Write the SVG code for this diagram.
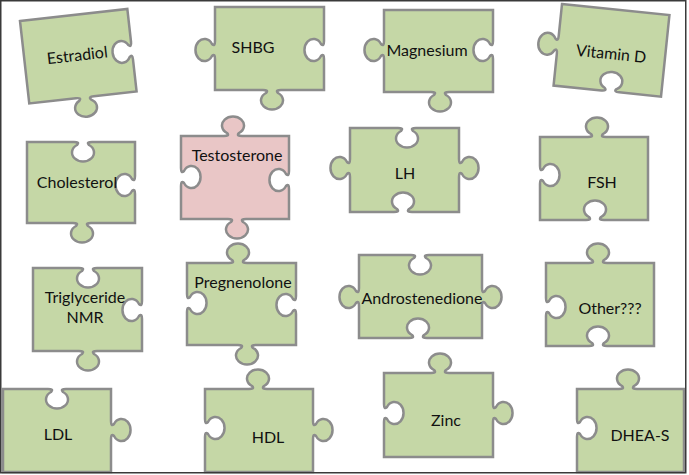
<svg xmlns="http://www.w3.org/2000/svg" width="689" height="475" viewBox="0 0 689 475">
<style>
.p{fill:#c5d7a6;stroke:#8c8c8c;stroke-width:2.5;stroke-linejoin:miter}
.pink{fill:#e9c6c6}
.t{font-family:Lato,"Open Sans","Liberation Sans",sans-serif;font-size:16px;fill:#111;text-anchor:middle}
</style>
<rect x="0" y="0" width="689" height="475" fill="#fff"/>
<g id="estradiol" transform="translate(20,21) rotate(-6.4)">
<path class="p" d="M0,0 H108 V33 c 0,4 -1,5 -3,3 a 9 11 0 1 0 0,12 c 2,-2 3,-1 3,3 V83 H65 c -4,0 -5,1 -3,3 a 11 9 0 1 1 -12,0 c 2,-2 1,-3 -3,-3 H0 Z"/>
<text class="t" x="53" y="46">Estradiol</text>
</g>
<g id="shbg">
<path class="p" d="M215,7 H324 V41 c 0,4 -1,5 -3,3 a 9 11 0 1 0 0,12 c 2,-2 3,-1 3,3 V90 H281 c -4,0 -5,1 -3,3 a 11 9 0 1 1 -12,0 c 2,-2 1,-3 -3,-3 H215 V59 c 0,-4 -1,-5 -3,-3 a 9 11 0 1 1 0,-12 c 2,2 3,1 3,-3 Z"/>
<text class="t" x="253" y="53">SHBG</text>
</g>
<g id="magnesium">
<path class="p" d="M384,10 H493 V41 c 0,4 -1,5 -3,3 a 9 11 0 1 0 0,12 c 2,-2 3,-1 3,3 V92 H449 c -4,0 -5,1 -3,3 a 11 9 0 1 1 -12,0 c 2,-2 1,-3 -3,-3 H384 V59 c 0,-4 -1,-5 -3,-3 a 9 11 0 1 1 0,-12 c 2,2 3,1 3,-3 Z"/>
<text class="t" x="427" y="56">Magnesium</text>
</g>
<g id="vitamind" transform="translate(562,4) rotate(5.9)">
<path class="p" d="M0,0 H108 V82 H66 c -4,0 -5,-1 -3,-3 a 11 9 0 1 0 -12,0 c 2,2 1,3 -3,3 H0 V50 c 0,-4 -1,-5 -3,-3 a 9 11 0 1 1 0,-12 c 2,2 3,1 3,-3 Z"/>
<text class="t" x="54" y="50">Vitamin D</text>
</g>
<g id="cholesterol">
<path class="p" d="M27,142 H74 c 4,0 5,1 3,3 a 11 9 0 1 0 12,0 c -2,-2 -1,-3 3,-3 H135 V176 c 0,4 -1,5 -3,3 a 9 11 0 1 0 0,12 c 2,-2 3,-1 3,3 V223 H91 c -4,0 -5,1 -3,3 a 11 9 0 1 1 -12,0 c 2,-2 1,-3 -3,-3 H27 Z"/>
<text class="t" x="77" y="188">Cholesterol</text>
</g>
<g id="testosterone">
<path class="p pink" d="M181,136 H224 c 4,0 5,-1 3,-3 a 11 9 0 1 1 12,0 c -2,2 -1,3 3,3 H289 V171 c 0,4 -1,5 -3,3 a 9 11 0 1 0 0,12 c 2,-2 3,-1 3,3 V219 H246 c -4,0 -5,1 -3,3 a 11 9 0 1 1 -12,0 c 2,-2 1,-3 -3,-3 H181 V186 c 0,-4 1,-5 3,-3 a 9 11 0 1 0 0,-12 c -2,2 -3,1 -3,-3 Z"/>
<text class="t" x="237" y="161">Testosterone</text>
</g>
<g id="lh">
<path class="p" d="M350,128 H398 c 4,0 5,1 3,3 a 11 9 0 1 0 12,0 c -2,-2 -1,-3 3,-3 H459 V159 c 0,4 1,5 3,3 a 9 11 0 1 1 0,12 c -2,-2 -3,-1 -3,3 V212 H412 c -4,0 -5,-1 -3,-3 a 11 9 0 1 0 -12,0 c 2,2 1,3 -3,3 H350 V177 c 0,-4 -1,-5 -3,-3 a 9 11 0 1 1 0,-12 c 2,2 3,1 3,-3 Z"/>
<text class="t" x="405" y="179">LH</text>
</g>
<g id="fsh">
<path class="p" d="M540,137 H588 c 4,0 5,-1 3,-3 a 11 9 0 1 1 12,0 c -2,2 -1,3 3,3 H648 V220 H604 c -4,0 -5,-1 -3,-3 a 11 9 0 1 0 -12,0 c 2,2 1,3 -3,3 H540 V184 c 0,-4 1,-5 3,-3 a 9 11 0 1 0 0,-12 c -2,2 -3,1 -3,-3 Z"/>
<text class="t" x="602" y="188">FSH</text>
</g>
<g id="triglyceride">
<path class="p" d="M33,268 H79 c 4,0 5,1 3,3 a 11 9 0 1 0 12,0 c -2,-2 -1,-3 3,-3 H142 V301 c 0,4 -1,5 -3,3 a 9 11 0 1 0 0,12 c 2,-2 3,-1 3,3 V351 H97 c -4,0 -5,1 -3,3 a 11 9 0 1 1 -12,0 c 2,-2 1,-3 -3,-3 H33 Z"/>
<text class="t" x="85" y="303">Triglyceride</text>
<text class="t" x="85" y="323">NMR</text>
</g>
<g id="pregnenolone">
<path class="p" d="M187,263 H229 c 4,0 5,-1 3,-3 a 11 9 0 1 1 12,0 c -2,2 -1,3 3,3 H296 V296 c 0,4 -1,5 -3,3 a 9 11 0 1 0 0,12 c 2,-2 3,-1 3,3 V345 H256 c -4,0 -5,1 -3,3 a 11 9 0 1 1 -12,0 c 2,-2 1,-3 -3,-3 H187 V312 c 0,-4 1,-5 3,-3 a 9 11 0 1 0 0,-12 c -2,2 -3,1 -3,-3 Z"/>
<text class="t" x="243" y="288">Pregnenolone</text>
</g>
<g id="androstenedione">
<path class="p" d="M359,255 H411 c 4,0 5,1 3,3 a 11 9 0 1 0 12,0 c -2,-2 -1,-3 3,-3 H482 V288 c 0,4 1,5 3,3 a 9 11 0 1 1 0,12 c -2,-2 -3,-1 -3,3 V338 H427 c -4,0 -5,-1 -3,-3 a 11 9 0 1 0 -12,0 c 2,2 1,3 -3,3 H359 V306 c 0,-4 -1,-5 -3,-3 a 9 11 0 1 1 0,-12 c 2,2 3,1 3,-3 Z"/>
<text class="t" x="422" y="304">Androstenedione</text>
</g>
<g id="other">
<path class="p" d="M546,263 H589 c 4,0 5,-1 3,-3 a 11 9 0 1 1 12,0 c -2,2 -1,3 3,3 H654 V346 H607 c -4,0 -5,-1 -3,-3 a 11 9 0 1 0 -12,0 c 2,2 1,3 -3,3 H546 V316 c 0,-4 1,-5 3,-3 a 9 11 0 1 0 0,-12 c -2,2 -3,1 -3,-3 Z"/>
<text class="t" x="610" y="314">Other???</text>
</g>
<g id="ldl">
<path class="p" d="M3,389 H48 c 4,0 5,1 3,3 a 11 9 0 1 0 12,0 c -2,-2 -1,-3 3,-3 H111 V421 c 0,4 1,5 3,3 a 9 11 0 1 1 0,12 c -2,-2 -3,-1 -3,3 V472 H3 Z"/>
<text class="t" x="58" y="440">LDL</text>
</g>
<g id="hdl">
<path class="p" d="M205,389 H249 c 4,0 5,-1 3,-3 a 11 9 0 1 1 12,0 c -2,2 -1,3 3,3 H313 V421 c 0,4 1,5 3,3 a 9 11 0 1 1 0,12 c -2,-2 -3,-1 -3,3 V472 H205 V437 c 0,-4 1,-5 3,-3 a 9 11 0 1 0 0,-12 c -2,2 -3,1 -3,-3 Z"/>
<text class="t" x="268" y="443">HDL</text>
</g>
<g id="zinc">
<path class="p" d="M384,373 H431 c 4,0 5,-1 3,-3 a 11 9 0 1 1 12,0 c -2,2 -1,3 3,3 H493 V404 c 0,4 1,5 3,3 a 9 11 0 1 1 0,12 c -2,-2 -3,-1 -3,3 V457 H384 V422 c 0,-4 1,-5 3,-3 a 9 11 0 1 0 0,-12 c -2,2 -3,1 -3,-3 Z"/>
<text class="t" x="446" y="426">Zinc</text>
</g>
<g id="dheas">
<path class="p" d="M577,389 H619 c 4,0 5,-1 3,-3 a 11 9 0 1 1 12,0 c -2,2 -1,3 3,3 H684 V472 H577 V437 c 0,-4 1,-5 3,-3 a 9 11 0 1 0 0,-12 c -2,2 -3,1 -3,-3 Z"/>
<text class="t" x="640" y="441">DHEA-S</text>
</g>
<rect x="0.75" y="0.75" width="685" height="472" fill="none" stroke="#3a3a3a" stroke-width="1.5"/>
</svg>
